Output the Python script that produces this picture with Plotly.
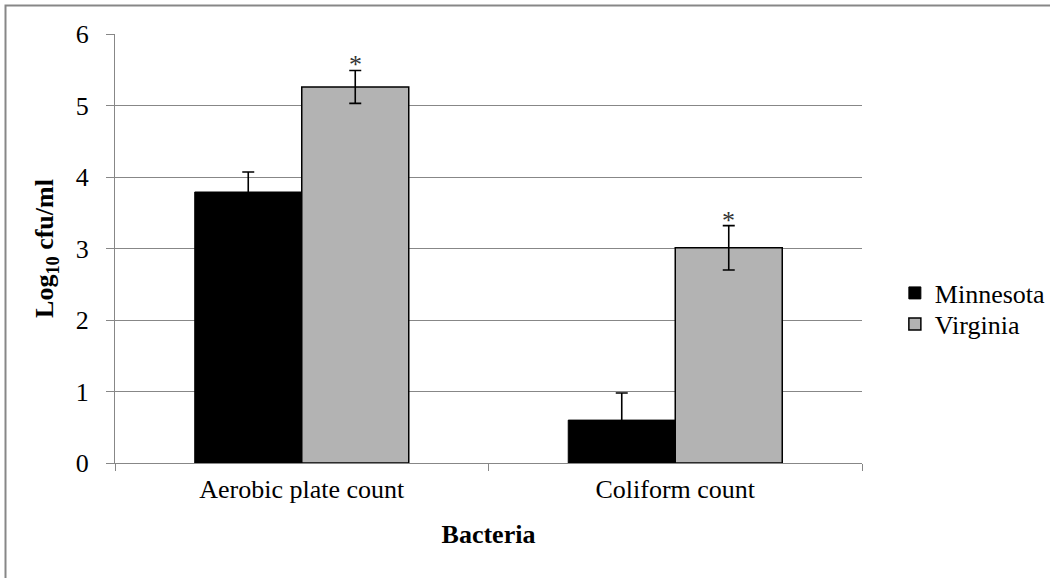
import plotly.graph_objects as go

categories = ["Aerobic plate count", "Coliform count"]
minnesota = [3.79, 0.60]
minnesota_err = [0.28, 0.38]
virginia = [5.26, 3.01]
virginia_err = [0.23, 0.31]
significant = [True, True]

FONT = "Liberation Serif"
GRAY = "#878787"
BARGAP = 0.427
FS = 26

fig = go.Figure()
fig.add_trace(go.Bar(
    name="Minnesota", x=categories, y=minnesota, legend="legend",
    marker=dict(color="#000000", line=dict(color="#000000", width=1)),
    error_y=dict(type="data", array=minnesota_err, visible=True,
                 color="#000000", thickness=1.6, width=6),
))
fig.add_trace(go.Bar(
    name="Virginia", x=categories, y=virginia, legend="legend2",
    marker=dict(color="#b3b3b3", line=dict(color="#000000", width=1.5)),
    error_y=dict(type="data", array=virginia_err, visible=True,
                 color="#000000", thickness=1.6, width=6),
))

bar_w = (1 - BARGAP) / 2
for i, (v, e, s) in enumerate(zip(virginia, virginia_err, significant)):
    if s:
        fig.add_annotation(x=i + bar_w / 2, y=v + e, text="*", showarrow=False,
                           yanchor="bottom", yshift=-11,
                           font=dict(family=FONT, size=FS, color="#333333"))

# outer chart border
fig.add_shape(type="rect", xref="paper", yref="paper",
              x0=(5.5 - 115) / 747, x1=(1060 - 115) / 747,
              y0=(463 - 590) / 429, y1=(463 - 5.5) / 429,
              line=dict(color=GRAY, width=2), fillcolor="rgba(0,0,0,0)", layer="below")

leg_common = dict(xanchor="left", yanchor="middle", x=1.044,
                  font=dict(family=FONT, size=FS), bgcolor="rgba(0,0,0,0)",
                  itemwidth=30)

fig.update_layout(
    width=1050, height=578,
    margin=dict(l=115, r=188, t=34, b=115, autoexpand=False),
    paper_bgcolor="white", plot_bgcolor="white",
    barmode="group", bargap=BARGAP, bargroupgap=0,
    font=dict(family=FONT, size=FS, color="#000000"),
    showlegend=True,
    legend=dict(y=(463 - 293) / 429, **leg_common),
    legend2=dict(y=(463 - 324) / 429, **leg_common),
    xaxis=dict(
        showline=True, linecolor=GRAY, linewidth=1,
        ticks="outside", tickson="boundaries", ticklen=7, tickcolor=GRAY,
        tickfont=dict(family=FONT, size=FS), ticklabelstandoff=3,
        title=dict(text="<b>Bacteria</b>", font=dict(family=FONT, size=FS), standoff=21),
    ),
    yaxis=dict(
        range=[0, 6], dtick=1, showgrid=True, gridcolor=GRAY, gridwidth=1,
        showline=True, linecolor=GRAY, linewidth=1,
        ticks="outside", ticklen=8, tickcolor=GRAY,
        tickfont=dict(family=FONT, size=FS), ticklabelstandoff=12,
        zeroline=False,
        title=dict(text="<b>Log<sub>10</sub> cfu/ml</b>", font=dict(family=FONT, size=FS), standoff=14),
    ),
)

fig.write_html("out.html")
